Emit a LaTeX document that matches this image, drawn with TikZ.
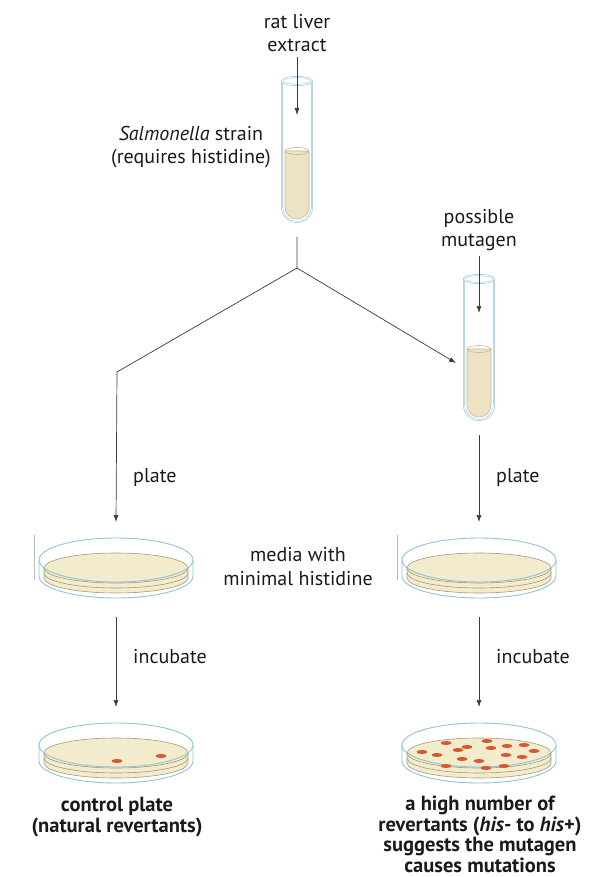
\documentclass[tikz,border=0pt]{standalone}
\usepackage{fontspec}
\setmainfont{PT Sans}
\usetikzlibrary{arrows.meta}
\definecolor{glassBlue}{HTML}{8DC3D9}
\definecolor{brothFill}{HTML}{EDE3C4}
\definecolor{brothEdge}{HTML}{C9B791}
\definecolor{agarFill}{HTML}{F2ECCD}
\definecolor{agarEdge}{HTML}{A8977A}
\definecolor{colonyRed}{HTML}{D9562F}
\definecolor{lineGrey}{HTML}{3A3A3A}
\definecolor{inkBlack}{HTML}{1A1A1A}

\begin{document}
\begin{tikzpicture}[x=1pt, y=-1pt,
  flow/.style={draw=lineGrey, line width=0.7pt, -{Latex[length=7pt,width=5pt]}},
  lbl/.style={font=\fontsize{20}{23.5}\selectfont, align=center, text=inkBlack, inner sep=0pt},
  verdict/.style={lbl, font=\fontsize{20.5}{20.5}\selectfont\bfseries},
  glass/.style={draw=glassBlue, line width=0.5pt, double=white, double distance=0.9pt},
  rim/.style={draw=glassBlue, line width=0.9pt},
  agar/.style={fill=agarFill, draw=agarEdge, line width=0.6pt},
  colony/.style={fill=colonyRed},
  % test tube, origin at the centre of its mouth
  tube/.pic={
    \filldraw[fill=brothFill, draw=brothEdge, line width=0.6pt]
      (-12,70) -- (-12,126) arc[start angle=180, end angle=0, radius=12] -- (12,70) -- cycle;
    \draw[brothEdge, line width=0.6pt] (0,70) ellipse[x radius=12, y radius=3.5];
    \draw[glass] (-15,0) -- (-15,126) arc[start angle=180, end angle=0, radius=15] -- (15,0);
    \draw[glass] (0,0) ellipse[x radius=15, y radius=4];
    \coordinate (-drop) at (0,34);
    \coordinate (-side) at (-23,84);
    \coordinate (-stem) at (0,156);
  },
  % petri dish, origin at the centre of the lid rim
  plate/.pic={
    \draw[rim] (-77,0) -- (-77,16) arc[start angle=180, end angle=0, x radius=77, y radius=22] -- (77,0);
    \filldraw[agar] (-72,8) -- (-72,18) arc[start angle=180, end angle=0, x radius=72, y radius=15]
      -- (72,8) -- cycle;
    \draw[agarEdge, line width=0.6pt] (-72,13) arc[start angle=180, end angle=0, x radius=72, y radius=15];
    \filldraw[agar] (0,8) ellipse[x radius=72, y radius=15];
    \draw[rim] (0,0) ellipse[x radius=77, y radius=22];
    \coordinate (-top) at (0,-38);
    \coordinate (-bottom) at (0,57);
  }]
\useasboundingbox (0,0) rectangle (610,877);

% tubes
\pic (extractTube) at (297,81) {tube};
\pic (mutagenTube) at (479,279) {tube};

% dishes before and after incubation
\pic (controlPlate) at (116,560) {plate};
\pic (testPlate) at (479,560) {plate};
\pic (controlDone) at (116,745) {plate};
\pic (testDone) at (479,745) {plate};
\draw[gray!55, line width=0.5pt] (34,535) -- (34,580);
\draw[gray!55, line width=0.5pt] (397,535) -- (397,580);

% revertant colonies
\begin{scope}[shift={(116,745)}]
  \foreach \cx/\cy in {1/16, 45/11}
    \fill[colony] (\cx,\cy) ellipse[x radius=5.5, y radius=2];
\end{scope}
\begin{scope}[shift={(479,745)}]
  \foreach \cx/\cy in {-33/-2, 8/-4, -12/2, -21/5, 12/3, 28/1, 45/0, -57/7, -42/10,
                       -17/14, 0/16, 27/10, 43/12, 55/6, -33/21, 7/23, 25/21}
    \fill[colony] (\cx,\cy) ellipse[x radius=5.5, y radius=2];
\end{scope}

% labels (anchor base sits on the last line)
\node[lbl, anchor=base] (liver) at (297,52) {rat liver\\extract};
\node[lbl, anchor=base east] (strain) at (271,164) {\textit{Salmonella} strain\\(requires histidine)};
\node[lbl, anchor=base] (mutagen) at (479,247) {possible\\mutagen};
\node[lbl, anchor=base] (media) at (298,585) {media with\\minimal histidine};
\node[lbl, anchor=base west] (plateL) at (133,482) {plate};
\node[lbl, anchor=base west] (plateR) at (496,482) {plate};
\node[lbl, anchor=base west] (incL) at (133,663) {incubate};
\node[lbl, anchor=base west] (incR) at (496,663) {incubate};
\node[verdict, anchor=base] (control) at (117,832) {control plate\\(natural revertants)};
\node[verdict, anchor=base] (high) at (480,872)
  {a high number of\\revertants (\textit{his}- to \textit{his}+)\\suggests the mutagen\\causes mutations};

% connectors
\coordinate (split) at (297,268);
\coordinate (bend) at (117,372);
\draw[flow, shorten <=5pt] (liver.south) -- (extractTube-drop);
\draw[flow, shorten <=5pt] (mutagen.south) -- (mutagenTube-drop);
\draw[flow] (extractTube-stem) -- (split) -- (bend) -- (controlPlate-top);
\draw[flow] (split) -- (mutagenTube-side);
\draw[flow] (mutagenTube-stem) -- (testPlate-top);
\draw[flow] (controlPlate-bottom) -- (controlDone-top);
\draw[flow] (testPlate-bottom) -- (testDone-top);
\end{tikzpicture}
\end{document}
